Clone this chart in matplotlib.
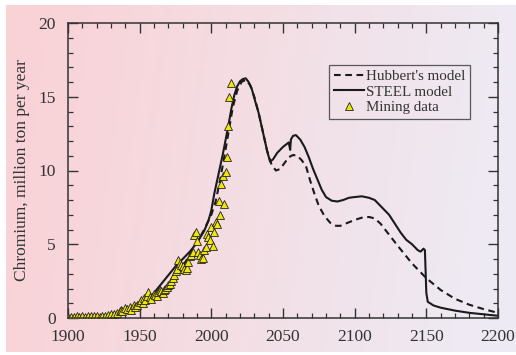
import numpy as np
import matplotlib
matplotlib.use("Agg")
import matplotlib.pyplot as plt
from matplotlib.ticker import MultipleLocator

plt.rcParams['font.family'] = ['Liberation Serif', 'DejaVu Serif']

# STEEL model (solid)
steel_years = [1900, 1910, 1920, 1930, 1935, 1940, 1945, 1950, 1955, 1960, 1965, 1970, 1975,
               1980, 1985, 1990, 1995, 1998, 2000, 2002, 2004, 2006, 2008, 2010, 2012, 2014,
               2016, 2018, 2020, 2022, 2024, 2026, 2028, 2030, 2033, 2036, 2039, 2041, 2043,
               2046, 2050, 2054, 2055, 2055.5, 2057, 2059, 2062, 2065, 2068, 2071, 2074, 2077,
               2080, 2084, 2088, 2092, 2096, 2100, 2105, 2110, 2114, 2117, 2120, 2124, 2128,
               2132, 2136, 2140, 2144, 2146, 2148, 2149, 2150, 2151, 2155, 2160, 2170, 2180,
               2190, 2200]
steel_vals = [0.0, 0.02, 0.06, 0.15, 0.25, 0.4, 0.6, 0.85, 1.2, 1.7, 2.3, 2.9, 3.5,
              4.0, 4.5, 5.1, 5.9, 6.6, 7.3, 8.4, 9.3, 10.2, 11.1, 12.1, 13.1, 14.2,
              15.1, 15.7, 16.05, 16.2, 16.25, 16.0, 15.6, 14.9, 13.9, 12.6, 11.3, 10.6, 10.75,
              11.2, 11.6, 11.9, 11.4, 12.1, 12.35, 12.4, 12.1, 11.6, 10.9, 10.1, 9.4, 8.7,
              8.2, 7.95, 7.9, 8.0, 8.15, 8.2, 8.25, 8.15, 8.0, 7.7, 7.4, 7.0, 6.4,
              5.8, 5.3, 5.0, 4.6, 4.5, 4.7, 4.6, 1.7, 1.1, 0.85, 0.7, 0.5, 0.35,
              0.25, 0.15]

# Hubbert's model (dashed)
hub_years = [1900, 1910, 1920, 1930, 1940, 1950, 1960, 1965, 1970, 1975, 1980, 1985, 1990,
             1995, 2000, 2003, 2006, 2009, 2012, 2015, 2018, 2021, 2024, 2027, 2030, 2033,
             2036, 2039, 2042, 2045, 2048, 2051, 2054, 2057, 2060, 2063, 2066, 2069, 2072,
             2075, 2079, 2083, 2087, 2090, 2095, 2100, 2105, 2110, 2114, 2118, 2122, 2126,
             2130, 2135, 2140, 2145, 2150, 2155, 2160, 2165, 2170, 2180, 2190, 2200]
hub_vals = [0.02, 0.04, 0.08, 0.18, 0.35, 0.7, 1.3, 1.7, 2.2, 2.8, 3.5, 4.3, 5.1,
            6.0, 7.0, 7.9, 9.3, 10.9, 12.6, 14.3, 15.4, 16.0, 16.15, 15.8, 15.0, 13.9,
            12.6, 11.3, 10.4, 10.0, 10.1, 10.5, 10.9, 11.05, 11.0, 10.7, 10.3, 9.3, 8.4,
            7.6, 6.9, 6.45, 6.25, 6.25, 6.45, 6.65, 6.8, 6.85, 6.75, 6.4, 5.9, 5.4,
            4.9, 4.3, 3.7, 3.2, 2.7, 2.3, 1.9, 1.6, 1.3, 0.9, 0.6, 0.35]

# Mining data (triangles)
mine_years = [1900, 1902, 1904, 1906, 1908, 1910, 1912, 1914, 1916, 1918, 1920, 1922, 1924,
              1926, 1928, 1930, 1932, 1934, 1936, 1937, 1938, 1940, 1941, 1943, 1944, 1946,
              1947, 1948, 1950, 1951, 1952, 1953, 1954, 1955, 1956, 1957, 1958, 1960, 1961,
              1962, 1963, 1964, 1965, 1966, 1967, 1968, 1969, 1970, 1971, 1972, 1973, 1974,
              1975, 1976, 1977, 1978, 1979, 1980, 1981, 1982, 1983, 1984, 1985, 1986, 1987,
              1988, 1989, 1990, 1991, 1992, 1993, 1994, 1995, 1996, 1997, 1998, 1999, 2000,
              2001, 2002, 2003, 2004, 2005, 2006, 2007, 2008, 2009, 2010, 2010.7, 2011.4,
              2012.6, 2013.7]
mine_vals = [0.08, 0.1, 0.08, 0.12, 0.1, 0.12, 0.1, 0.13, 0.12, 0.15, 0.12, 0.1, 0.15,
             0.14, 0.2, 0.3, 0.25, 0.35, 0.45, 0.55, 0.5, 0.65, 0.6, 0.75, 0.55, 0.9,
             0.75, 0.85, 1.1, 1.2, 1.0, 1.35, 1.2, 1.5, 1.75, 1.4, 1.3, 1.6, 1.55,
             1.5, 1.75, 1.9, 1.8, 1.7, 1.9, 2.0, 2.1, 2.25, 2.3, 2.5, 2.7, 2.9,
             3.2, 3.3, 3.9, 3.7, 3.6, 3.5, 3.3, 3.25, 3.4, 3.8, 4.2, 4.3, 4.45,
             5.6, 5.8, 5.2, 4.5, 4.3, 4.0, 4.1, 4.6, 4.8, 5.7, 5.5, 5.3, 6.2,
             4.9, 5.8, 6.5, 6.4, 7.9, 7.0, 9.1, 9.6, 7.7, 9.9, 10.9, 13.0,
             15.0, 15.95]

W, H = 516, 355
fig = plt.figure(figsize=(W / 100, H / 100), dpi=100, facecolor='white')

# background gradient
bg = fig.add_axes([6 / W, 3 / H, 1 - 6 / W, 1 - 8 / H])
bg.set_axis_off()
xs = np.linspace(0, 1, 200)
ys = np.linspace(0, 1, 100)
X, Y = np.meshgrid(xs, ys)
left = np.array([249, 210, 214]) / 255
right = np.array([238, 234, 243]) / 255
t = np.clip(X * 1.05 + 0.1 * (Y - 0.5), 0, 1)[..., None]
img = left * (1 - t) + right * t
bg.imshow(img, aspect='auto', extent=[0, 1, 0, 1])
bg.set_zorder(-10)

ax = fig.add_axes([68 / W, (H - 318) / H, 430 / W, 295 / H])
ax.patch.set_alpha(0)

ax.plot(hub_years, hub_vals, color='#1a1a1a', lw=1.5, ls=(0, (3.2, 2.2)),
        label="Hubbert's model")
ax.plot(steel_years, steel_vals, color='#1a1a1a', lw=1.5, label='STEEL model')
ax.plot(mine_years, mine_vals, ls='none', marker='^', ms=6, mfc='#f2e600',
        mec='#222222', mew=0.6, label='Mining data')

ax.set_xlim(1900, 2200)
ax.set_ylim(0, 20)
ax.xaxis.set_major_locator(MultipleLocator(50))
ax.xaxis.set_minor_locator(MultipleLocator(10))
ax.yaxis.set_major_locator(MultipleLocator(5))
ax.yaxis.set_minor_locator(MultipleLocator(1))
ax.tick_params(which='both', direction='in', top=True, right=True, colors='#333333',
               labelsize=12.5)
ax.tick_params(which='major', length=7, width=1)
ax.tick_params(which='minor', length=3.5, width=0.9)
ax.tick_params(axis='x', pad=8)
ax.tick_params(axis='y', pad=9)
for sp in ax.spines.values():
    sp.set_color('#333333')
    sp.set_linewidth(1.1)

ax.set_ylabel('Chromium, million ton per year', fontsize=12.5, color='#333333',
              labelpad=6)

leg = ax.legend(loc='upper right', bbox_to_anchor=(0.935, 0.858), borderaxespad=0,
                fontsize=10.8, frameon=True, fancybox=False, handlelength=2.0,
                handletextpad=0.15, borderpad=0.3, labelspacing=0.15,
                markerscale=0.85)
leg.get_frame().set_edgecolor('#333333')
leg.get_frame().set_linewidth(0.9)
leg.get_frame().set_facecolor('none')
for txt in leg.get_texts():
    txt.set_color('#333333')

fig.savefig('out.png', dpi=100, facecolor='white')
